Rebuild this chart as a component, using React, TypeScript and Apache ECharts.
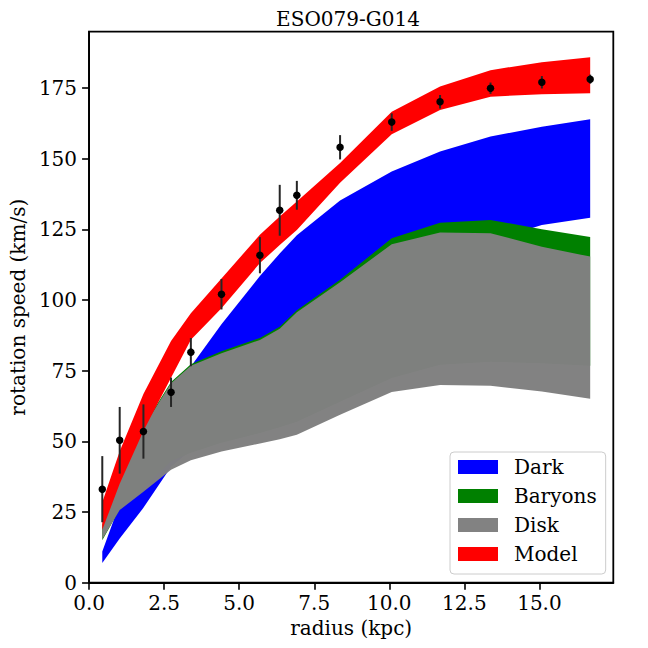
import React, { useEffect, useRef } from "react";
import * as echarts from "echarts";

// radii (kpc)
const radius = [0.44, 1.02, 1.81, 2.73, 3.39, 4.41, 5.69, 6.35, 6.92, 8.36, 10.08, 11.69, 13.37, 15.08, 16.69];
// observed rotation speeds and errors (km/s)
const vObs = [33.1, 50.4, 53.5, 67.4, 81.6, 102.1, 115.9, 131.8, 137.1, 154.1, 163.0, 170.2, 175.0, 177.1, 178.2];
const vErr = [11.7, 11.8, 9.6, 5.2, 5.0, 5.4, 6.4, 9.0, 5.1, 4.3, 3.1, 2.4, 2.0, 2.2, 1.6];

// bands (lower / upper)
const darkLo = [7.0, 15.6, 26.5, 41.0, 47.0, 55.0, 63.0, 68.0, 73.0, 86.0, 100.0, 112.0, 121.0, 126.6, 129.2];
const darkHi = [11.0, 28.0, 45.0, 62.0, 76.5, 91.5, 108.5, 116.5, 123.0, 135.3, 145.5, 152.6, 157.9, 161.4, 164.0];
const baryLo = [15.0, 26.0, 33.5, 43.0, 46.0, 49.5, 53.0, 55.0, 57.0, 64.0, 72.4, 77.1, 78.2, 77.7, 76.8];
const baryHi = [20.5, 37.5, 55.5, 71.0, 77.3, 81.9, 86.6, 90.6, 96.4, 107.2, 121.9, 127.4, 128.4, 125.1, 122.3];
const diskLo = [15.4, 25.7, 32.2, 40.0, 43.3, 46.4, 49.3, 50.8, 52.4, 59.4, 67.5, 70.0, 69.7, 67.7, 65.1];
const diskHi = [20.0, 37.0, 55.0, 70.6, 76.8, 81.2, 85.9, 89.9, 95.7, 106.3, 119.8, 123.9, 123.7, 118.9, 115.4];
const modelLo = [18.7, 35.0, 53.7, 72.5, 86.0, 97.1, 113.1, 119.5, 124.8, 141.5, 158.7, 167.3, 172.0, 172.9, 173.2];
const modelHi = [28.5, 46.5, 66.8, 85.5, 95.4, 107.7, 123.1, 129.6, 134.9, 148.5, 166.7, 175.6, 181.4, 184.2, 186.0];

const xTicks = [0, 2.5, 5, 7.5, 10, 12.5, 15];
const yTicks = [0, 25, 50, 75, 100, 125, 150, 175];
const X_MAX = 17.46;
const Y_MAX = 195;

const FONT = "'DejaVu Serif', 'Liberation Serif', serif";

function bandSeries(name: string, color: string, lo: number[], hi: number[], z: number, opacity = 1) {
  return {
    type: "custom",
    name,
    coordinateSystem: "cartesian2d",
    data: [[radius[0], lo[0]]],
    itemStyle: { color, opacity },
    silent: true,
    z,
    renderItem: (_params: any, api: any) => {
      const upper = radius.map((r, i) => api.coord([r, hi[i]]));
      const lower = radius.map((r, i) => api.coord([r, lo[i]])).reverse();
      return {
        type: "polygon",
        shape: { points: upper.concat(lower) },
        style: { fill: color, opacity },
        silent: true,
      };
    },
  };
}

export default function App() {
  const ref = useRef<HTMLDivElement>(null);
  useEffect(() => {
    if (!ref.current) return;
    const chart = echarts.init(ref.current, undefined, { renderer: "svg" });
    const axisText = { fontFamily: FONT, fontSize: 20, color: "#000" };
    chart.setOption({
      animation: false,
      backgroundColor: "#fff",
      textStyle: { fontFamily: FONT },
      title: {
        text: "ESO079-G014",
        left: 348,
        top: 8.5,
        padding: 0,
        textAlign: "center",
        textStyle: { fontFamily: FONT, fontSize: 20, fontWeight: "normal", color: "#000", lineHeight: 20 },
      },
      grid: {
        left: 83.3,
        top: 31.7,
        right: 34.7,
        bottom: 65.3,
        show: true,
        borderColor: "#000",
        borderWidth: 1.8,
        backgroundColor: "transparent",
      },
      legend: {
        orient: "vertical",
        left: 450,
        top: 452,
        itemWidth: 40,
        itemHeight: 14,
        itemGap: 9,
        padding: [5, 9, 10, 8],
        backgroundColor: "#fff",
        borderColor: "#cccccc",
        borderWidth: 1,
        borderRadius: 4,
        selectedMode: false,
        textStyle: { fontFamily: FONT, fontSize: 20, color: "#000", lineHeight: 20, padding: [0, 0, 0, 11] },
        data: [
          { name: "Dark", icon: "rect" },
          { name: "Baryons", icon: "rect" },
          { name: "Disk", icon: "rect" },
          { name: "Model", icon: "rect" },
        ],
      },
      xAxis: {
        type: "value",
        min: 0,
        max: X_MAX,
        interval: 2.5,
        name: "radius (kpc)",
        nameLocation: "middle",
        nameGap: 35,
        nameTextStyle: { ...axisText, lineHeight: 20 },
        axisLine: { show: true, onZero: false, lineStyle: { color: "#000", width: 1.8 } },
        axisTick: { show: true, inside: false, length: 7, lineStyle: { color: "#000", width: 1.6 }, customValues: xTicks },
        axisLabel: { ...axisText, margin: 10, customValues: xTicks, formatter: (v: number) => v.toFixed(1) },
        splitLine: { show: false },
      },
      yAxis: {
        type: "value",
        min: 0,
        max: Y_MAX,
        interval: 25,
        name: "rotation speed (km/s)",
        nameLocation: "middle",
        nameGap: 54,
        nameRotate: 90,
        nameTextStyle: { ...axisText, lineHeight: 20 },
        axisLine: { show: true, onZero: false, lineStyle: { color: "#000", width: 1.8 } },
        axisTick: { show: true, inside: false, length: 7, lineStyle: { color: "#000", width: 1.6 }, customValues: yTicks },
        axisLabel: { ...axisText, margin: 12, customValues: yTicks, formatter: (v: number) => String(v) },
        splitLine: { show: false },
      },
      series: [
        bandSeries("Dark", "#0000ff", darkLo, darkHi, 2),
        bandSeries("Baryons", "#008000", baryLo, baryHi, 3),
        bandSeries("Disk", "#808080", diskLo, diskHi, 4, 0.985),
        bandSeries("Model", "#ff0000", modelLo, modelHi, 5),
        {
          type: "custom",
          name: "errors",
          coordinateSystem: "cartesian2d",
          data: radius.map((r, i) => [r, vObs[i], vErr[i]]),
          encode: { x: 0, y: 1 },
          silent: true,
          z: 6,
          renderItem: (_params: any, api: any) => {
            const x = api.value(0);
            const y = api.value(1);
            const e = api.value(2);
            const p1 = api.coord([x, y - e]);
            const p2 = api.coord([x, y + e]);
            return {
              type: "line",
              shape: { x1: p1[0], y1: p1[1], x2: p2[0], y2: p2[1] },
              style: { stroke: "#262626", lineWidth: 2 },
              silent: true,
            };
          },
        },
        {
          type: "scatter",
          name: "data",
          data: radius.map((r, i) => [r, vObs[i]]),
          symbol: "circle",
          symbolSize: 7.5,
          itemStyle: { color: "#000", opacity: 1 },
          silent: true,
          z: 7,
        },
      ],
    });
    return () => chart.dispose();
  }, []);
  return (
    <div
      ref={ref}
      style={{ position: "fixed", left: 0, top: 0, width: 648, height: 648, background: "#fff" }}
    />
  );
}
